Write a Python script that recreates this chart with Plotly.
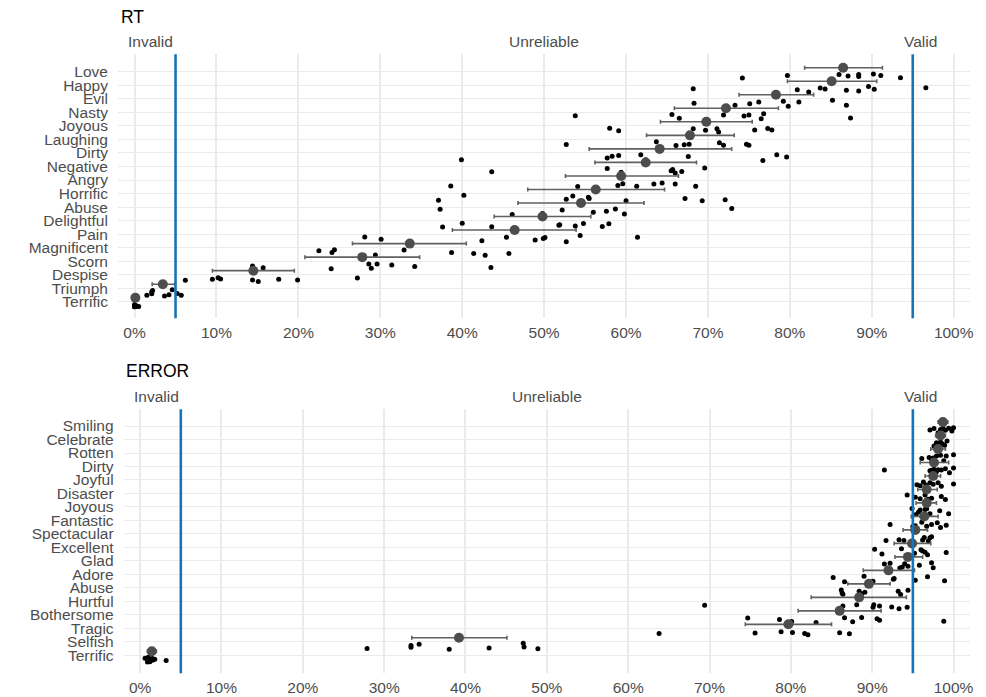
import plotly.graph_objects as go

W, H = 986, 697

# ---------------- RT panel data ----------------
rt_words = ["Love", "Happy", "Evil", "Nasty", "Joyous", "Laughing", "Dirty", "Negative",
            "Angry", "Horrific", "Abuse", "Delightful", "Pain", "Magnificent", "Scorn",
            "Despise", "Triumph", "Terrific"]
rt_mean = [86.5, 85.1, 78.3, 72.2, 69.8, 67.8, 64.1, 62.4, 59.4, 56.3, 54.5, 49.8, 46.4,
           33.6, 27.8, 14.5, 3.45, 0.1]
rt_low = [81.8, 79.7, 73.8, 65.9, 64.2, 62.5, 55.5, 56.2, 52.6, 48.0, 46.8, 43.9, 38.8,
          26.6, 20.8, 9.5, 2.15, 0.0]
rt_high = [91.3, 90.6, 82.9, 78.6, 75.4, 73.2, 72.9, 68.6, 66.4, 64.7, 62.2, 55.7, 53.9,
           40.5, 34.8, 19.5, 4.9, 0.2]
rt_points = {
    "Love": [74.2, 79.7, 86.0, 87.1, 88.4, 88.4, 90.2, 91.1, 93.5],
    "Happy": [68.2, 80.9, 82.3, 83.7, 84.3, 86.9, 88.4, 89.6, 90.3, 96.6],
    "Evil": [68.3, 73.3, 75.1, 76.2, 79.2, 79.8, 81.1, 85.2, 86.9],
    "Nasty": [53.8, 65.6, 66.5, 71.9, 74.4, 75.0, 76.5, 76.8, 87.4],
    "Joyous": [58.0, 59.1, 68.2, 69.7, 71.1, 71.3, 75.7, 77.3, 77.8],
    "Laughing": [52.7, 63.7, 66.1, 67.1, 67.7, 71.4, 71.9, 74.7, 75.0],
    "Dirty": [39.9, 57.7, 58.3, 59.1, 61.8, 62.4, 67.6, 76.7, 78.4, 79.6],
    "Negative": [43.6, 57.7, 59.4, 65.5, 65.7, 66.0, 66.8, 69.6],
    "Angry": [38.6, 54.1, 59.0, 59.6, 61.3, 63.4, 64.4, 66.0, 68.5],
    "Horrific": [37.1, 40.2, 52.7, 53.5, 55.4, 55.5, 60.0, 67.2, 69.3, 72.1],
    "Abuse": [37.3, 46.1, 49.8, 52.2, 56.0, 57.6, 58.7, 59.8, 72.9],
    "Delightful": [37.6, 40.0, 43.6, 51.8, 51.9, 53.8, 54.8, 57.1, 57.9],
    "Pain": [28.1, 30.1, 42.4, 45.4, 48.9, 49.9, 50.1, 52.7, 54.4, 61.4],
    "Magnificent": [22.5, 24.1, 24.4, 29.4, 32.9, 38.7, 41.4, 42.8, 45.7],
    "Scorn": [14.4, 15.7, 24.0, 28.6, 28.9, 29.6, 31.4, 34.2, 43.5],
    "Despise": [6.2, 9.5, 10.2, 10.5, 14.4, 15.1, 17.6, 19.9, 27.2],
    "Triumph": [1.5, 2.1, 2.1, 2.2, 3.65, 4.2, 4.6, 5.2, 5.7],
    "Terrific": [0.0, 0.0, 0.0, 0.0, 0.0, 0.0, 0.2, 0.3, 0.5],
}

# ---------------- ERROR panel data ----------------
err_words = ["Smiling", "Celebrate", "Rotten", "Dirty", "Joyful", "Disaster", "Joyous",
             "Fantastic", "Spectacular", "Excellent", "Glad", "Adore", "Abuse", "Hurtful",
             "Bothersome", "Tragic", "Selfish", "Terrific"]
err_mean = [98.7, 98.4, 98.1, 97.6, 97.5, 96.7, 96.7, 96.4, 95.3, 94.9, 94.4, 92.0, 89.6,
            88.4, 86.0, 79.7, 39.2, 1.43]
err_low = [98.1, 97.8, 97.2, 95.9, 96.5, 95.6, 95.4, 94.8, 93.8, 92.7, 92.8, 88.9, 87.0,
           82.5, 80.9, 74.4, 33.4, 0.9]
err_high = [99.3, 99.0, 99.0, 99.4, 98.4, 98.0, 97.9, 98.1, 96.8, 97.2, 96.2, 95.2, 92.2,
            94.2, 91.1, 85.0, 45.1, 2.0]
err_points = {
    "Smiling": [97.1, 97.6, 98.1, 98.4, 98.7, 99.0, 99.4, 99.8, 100.0],
    "Celebrate": [97.6, 97.9, 98.2, 98.3, 98.4, 98.5, 98.7, 98.9, 99.2],
    "Rotten": [96.1, 97.0, 97.3, 97.5, 97.9, 98.4, 98.8, 99.1, 100.0],
    "Dirty": [91.5, 97.1, 97.3, 97.6, 97.9, 98.1, 98.5, 99.0, 99.5, 100.0],
    "Joyful": [95.5, 95.9, 96.3, 96.6, 97.1, 97.5, 98.1, 98.5, 100.0],
    "Disaster": [94.3, 95.3, 95.9, 96.5, 96.7, 96.9, 97.3, 98.5, 99.0],
    "Joyous": [94.9, 95.4, 95.7, 95.9, 96.5, 96.7, 97.1, 98.3, 99.4],
    "Fantastic": [92.2, 95.0, 95.3, 96.1, 96.7, 97.3, 98.0, 98.4, 99.1],
    "Spectacular": [91.7, 93.3, 93.9, 94.9, 96.2, 96.4, 96.9, 97.1, 97.3],
    "Excellent": [90.3, 91.2, 93.6, 95.2, 96.0, 96.2, 96.5, 96.8, 99.1],
    "Glad": [91.5, 92.2, 93.4, 93.7, 94.0, 94.4, 95.8, 97.3, 97.5],
    "Adore": [85.2, 86.6, 89.0, 90.1, 92.6, 92.7, 95.3, 96.8, 98.9],
    "Abuse": [86.2, 86.3, 86.4, 88.4, 88.7, 89.1, 93.2, 93.5, 94.4],
    "Hurtful": [69.4, 86.4, 88.1, 90.1, 90.2, 90.9, 92.4, 93.3, 94.3],
    "Bothersome": [74.7, 78.6, 80.1, 83.1, 86.6, 87.6, 88.7, 90.6, 90.9, 98.8],
    "Tragic": [63.8, 75.6, 78.8, 80.2, 81.7, 82.1, 86.0, 87.2],
    "Selfish": [27.9, 33.3, 33.3, 34.3, 38.0, 42.9, 47.1, 47.2, 48.9],
    "Terrific": [0.6, 0.9, 1.0, 1.2, 1.3, 1.5, 1.6, 1.8, 3.2],
}

x_ticks = [0, 10, 20, 30, 40, 50, 60, 70, 80, 90, 100]
zone_labels = ["Invalid", "Unreliable", "Valid"]
zone_label_x = [2, 50, 96]
thresholds = [5, 95]

FONT = "Liberation Sans, Arial, Helvetica, sans-serif"
TXT = "#4D4D4D"
GRID = "#EBEBEB"
BLUE = "#1874B6"

fig = go.Figure()


def add_panel(words, points, means, lows, highs, xa, ya):
    n = len(words)
    pos = [n - 1 - i for i in range(n)]
    xs, ys = [], []
    for i, w in enumerate(words):
        for v in points[w]:
            xs.append(v)
            ys.append(pos[i] - 0.33)
    fig.add_trace(go.Box(
        x=xs, y=ys, orientation="h", boxpoints="all", jitter=1, pointpos=0,
        width=0.5, fillcolor="rgba(0,0,0,0)",
        line=dict(width=0, color="rgba(0,0,0,0)"), whiskerwidth=0,
        marker=dict(size=5, color="black", line=dict(width=0)),
        xaxis=xa, yaxis=ya, showlegend=False, hoverinfo="x"))
    fig.add_trace(go.Scatter(
        x=means, y=[p + 0.3 for p in pos], mode="markers",
        marker=dict(size=10, color="#4D4D4D"),
        error_x=dict(type="data", symmetric=False,
                     array=[h - m for h, m in zip(highs, means)],
                     arrayminus=[m - l for m, l in zip(means, lows)],
                     color="#616161", thickness=1.6, width=2),
        xaxis=xa, yaxis=ya, showlegend=False, hoverinfo="x"))
    return pos


rt_pos = add_panel(rt_words, rt_points, rt_mean, rt_low, rt_high, "x", "y")
err_pos = add_panel(err_words, err_points, err_mean, err_low, err_high, "x2", "y2")

xcommon = dict(range=[-2.03, 102.03], tickvals=x_ticks,
               ticktext=[f"{t}%" for t in x_ticks], showgrid=True, gridcolor=GRID,
               gridwidth=2, zeroline=False, showline=False, ticks="",
               tickfont=dict(family=FONT, size=15.5, color=TXT), ticklabelstandoff=3)
ycommon = dict(type="linear", showgrid=True, gridcolor=GRID, gridwidth=1.3,
               zeroline=False, showline=False, ticks="",
               tickfont=dict(family=FONT, size=15.5, color=TXT), ticklabelstandoff=9)

fig.update_layout(
    width=W, height=H,
    margin=dict(l=0, r=0, t=0, b=0),
    paper_bgcolor="white", plot_bgcolor="white",
    showlegend=False,
    font=dict(family=FONT, color=TXT),
    xaxis=dict(xcommon, domain=[118.3 / W, 973.3 / W], anchor="y"),
    yaxis=dict(ycommon, domain=[1 - 318.3 / H, 1 - 54.3 / H], anchor="x",
               range=[-1.22, 18.29], tickvals=rt_pos, ticktext=rt_words),
    xaxis2=dict(xcommon, domain=[124.0 / W, 973.0 / W], anchor="y2"),
    yaxis2=dict(ycommon, domain=[1 - 673.3 / H, 1 - 409.3 / H], anchor="x2",
                range=[-1.33, 18.24], tickvals=err_pos, ticktext=err_words),
)

shapes = []
annotations = []
for xr, yr in [("x", "y"), ("x2", "y2")]:
    for t in thresholds:
        shapes.append(dict(type="line", xref=xr, yref=f"{yr} domain", x0=t, x1=t,
                           y0=0, y1=1, line=dict(color=BLUE, width=2.6), layer="above"))
    for lab, lx in zip(zone_labels, zone_label_x):
        annotations.append(dict(text=lab, x=lx, xref=xr, y=1, yref=f"{yr} domain",
                                xanchor="center", yanchor="middle", yshift=12.5,
                                showarrow=False,
                                font=dict(family=FONT, size=15.5, color=TXT)))

annotations.append(dict(text="RT", x=119 / W, xref="paper", y=1 - 17 / H, yref="paper",
                        xanchor="left", yanchor="middle", showarrow=False,
                        font=dict(family=FONT, size=17.5, color="black")))
annotations.append(dict(text="ERROR", x=124 / W, xref="paper", y=1 - 371 / H,
                        yref="paper", xanchor="left", yanchor="middle", showarrow=False,
                        font=dict(family=FONT, size=17.5, color="black")))

fig.update_layout(shapes=shapes, annotations=annotations)

fig.write_html(
    "out.html",
    config={"displayModeBar": False},
    post_script="document.body.style.margin='0';document.body.style.padding='0';"
                "document.documentElement.style.overflow='hidden';",
)
